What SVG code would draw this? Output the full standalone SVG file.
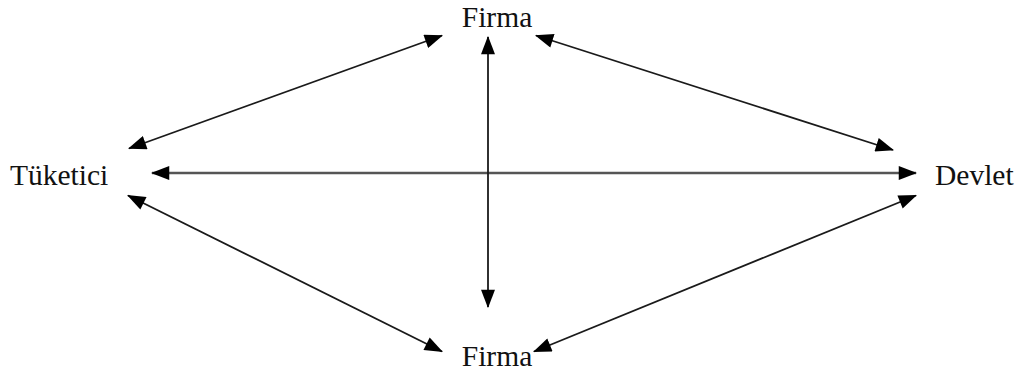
<svg xmlns="http://www.w3.org/2000/svg" width="1019" height="374" viewBox="0 0 1019 374">
<style>
.lbl{font-family:"Liberation Serif","Times New Roman",serif;font-size:29.5px;fill:#111}
.c{stroke:#1a1a1a;stroke-width:1.8;fill:none;marker-start:url(#ah);marker-end:url(#ah)}
</style>
<defs>
<marker id="ah" markerUnits="userSpaceOnUse" markerWidth="19" markerHeight="14" refX="16" refY="6.5" orient="auto-start-reverse" viewBox="0 0 17 13">
<path d="M0,0 L17,6.5 L0,13 Z" fill="#000"/>
</marker>
</defs>
<rect width="1019" height="374" fill="#fff"/>
<g id="connectors">
<line class="c" x1="129" y1="148.5" x2="442" y2="35.5"/>
<line class="c" x1="536" y1="35.5" x2="893" y2="150"/>
<line class="c" x1="152" y1="173" x2="916" y2="173" style="stroke:#555;stroke-width:2.4"/>
<line class="c" x1="488" y1="37" x2="488" y2="307"/>
<line class="c" x1="128" y1="195.5" x2="442" y2="351.5"/>
<line class="c" x1="534" y1="351.5" x2="916" y2="195.5"/>
</g>
<g id="firma-top"><text class="lbl" x="497" y="27" text-anchor="middle">Firma</text></g>
<g id="tuketici"><text class="lbl" x="10" y="185">Tüketici</text></g>
<g id="devlet"><text class="lbl" x="935" y="185">Devlet</text></g>
<g id="firma-bottom"><text class="lbl" x="497" y="366" text-anchor="middle">Firma</text></g>
</svg>
